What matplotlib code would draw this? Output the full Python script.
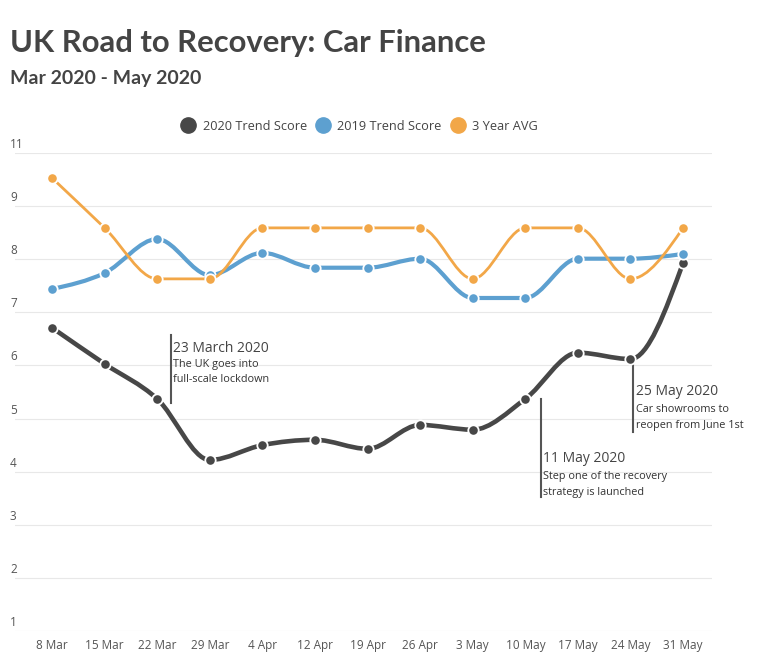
import numpy as np
import matplotlib.pyplot as plt
from matplotlib.path import Path
from matplotlib.patches import PathPatch
from matplotlib.lines import Line2D
from matplotlib.transforms import blended_transform_factory, ScaledTranslation

plt.rcParams['font.family'] = ['Open Sans', 'DejaVu Sans']

# --- Data ---
weeks = ['8 Mar', '15 Mar', '22 Mar', '29 Mar', '4 Apr', '12 Apr', '19 Apr',
         '26 Apr', '3 May', '10 May', '17 May', '24 May', '31 May']
trend_2020 = [6.71, 6.03, 5.37, 4.22, 4.50, 4.60, 4.43, 4.88, 4.79, 5.37, 6.24, 6.12, 7.93]
trend_2019 = [7.44, 7.74, 8.38, 7.70, 8.12, 7.84, 7.84, 8.01, 7.27, 7.27, 8.01, 8.01, 8.10]
avg_3yr = [9.53, 8.59, 7.63, 7.63, 8.59, 8.59, 8.59, 8.59, 7.63, 8.59, 8.59, 7.63, 8.59]

series_names = ['2020 Trend Score', '2019 Trend Score', '3 Year AVG']
colors = ['#474747', '#5da0d0', '#f2a748']
widths = [3.3, 3.0, 2.0]

ytick_pos = list(range(1, 11))
ytick_labels = ['1', '2', '3', '4', '5', '6', '7', '8', '9', '11']

# annotations: (line x, line y0, line y1, text x, title, sub lines, title y, sub ys)
notes = [
    (2.257, 6.57, 5.29, 2.31, '23 March 2020', ['The UK goes into', 'full-scale lockdown'], 6.25, [5.97, 5.69]),
    (9.294, 5.37, 3.53, 9.34, '11 May 2020', ['Step one of the recovery', 'strategy is launched'], 4.18, [3.86, 3.57]),
    (11.05, 6.01, 4.75, 11.11, '25 May 2020', ['Car showrooms to', 'reopen from June 1st'], 5.44, [5.13, 4.83]),
]


def monotone_path(x, y):
    # cubic bezier path like d3.curveMonotoneX
    x = np.asarray(x, float)
    y = np.asarray(y, float)
    n = len(x)
    t = np.zeros(n)
    for i in range(1, n - 1):
        h0 = x[i] - x[i - 1]
        h1 = x[i + 1] - x[i]
        s0 = (y[i] - y[i - 1]) / h0
        s1 = (y[i + 1] - y[i]) / h1
        p = (s0 * h1 + s1 * h0) / (h0 + h1)
        t[i] = (np.sign(s0) + np.sign(s1)) * min(abs(s0), abs(s1), 0.5 * abs(p))
    t[0] = (3 * (y[1] - y[0]) / (x[1] - x[0]) - t[1]) / 2
    t[-1] = (3 * (y[-1] - y[-2]) / (x[-1] - x[-2]) - t[-2]) / 2
    verts = [(x[0], y[0])]
    codes = [Path.MOVETO]
    for i in range(n - 1):
        dx = (x[i + 1] - x[i]) / 3
        verts += [(x[i] + dx, y[i] + dx * t[i]),
                  (x[i + 1] - dx, y[i + 1] - dx * t[i + 1]),
                  (x[i + 1], y[i + 1])]
        codes += [Path.CURVE4] * 3
    return Path(verts, codes)


# --- Plotting ---
fig = plt.figure(figsize=(7.58, 6.70), dpi=100)
ax = fig.add_axes([15 / 758, 1 - 631 / 670, 697 / 758, 478 / 670])

xs = np.arange(len(weeks))
for k, ys in enumerate([trend_2020, trend_2019, avg_3yr]):
    patch = PathPatch(monotone_path(xs, ys), fill=False, edgecolor=colors[k],
                      lw=widths[k], capstyle='round', joinstyle='round', zorder=3 + k)
    ax.add_patch(patch)
    ax.plot(xs, ys, 'o', color=colors[k], ms=7.5, mec='white', mew=1.3, zorder=3.5 + k)

ax.set_xlim(-0.704, 12.55)
ax.set_ylim(1, 10)
ax.set_yticks(ytick_pos)
ax.set_yticklabels([])
ax.grid(axis='y', color='#e8e8e8', lw=0.8)
ax.set_axisbelow(True)
for s in ax.spines.values():
    s.set_visible(False)
ax.set_xticks(xs, weeks)
ax.tick_params(axis='both', length=0)
ax.tick_params(axis='x', pad=6, labelsize=8.5, labelcolor='#555555')

# y labels sit above the gridlines, at the far left
ytrans = blended_transform_factory(fig.transFigure, ax.transData) + \
    ScaledTranslation(0, 8.5 / 100, fig.dpi_scale_trans)
for pos, lab in zip(ytick_pos, ytick_labels):
    ax.text(10 / 758, pos, lab, transform=ytrans, ha='left', va='center',
            fontsize=8.5, color='#555555')

# annotations
for lx, y0, y1, tx, title, subs, ty, sys in notes:
    ax.plot([lx, lx], [y0, y1], color='#555555', lw=1.5, zorder=2)
    ax.text(tx, ty, title, fontsize=10, color='#444444', va='baseline', ha='left')
    for line, sy in zip(subs, sys):
        ax.text(tx, sy, line, fontsize=7.8, color='#333333', va='baseline', ha='left')

# titles
fig.text(10 / 758, 1 - 52 / 670, 'UK Road to Recovery: Car Finance', fontsize=22.3,
         fontweight='bold', color='#444444', va='baseline', ha='left', family='Lato')
fig.text(10 / 758, 1 - 84 / 670, 'Mar 2020 - May 2020', fontsize=14,
         fontweight='bold', color='#444444', va='baseline', ha='left', family='Lato')

# legend
handles = [Line2D([], [], ls='', marker='o', ms=11, color=c) for c in colors]
fig.legend(handles, series_names, loc='center', bbox_to_anchor=(0.475, 1 - 126 / 670),
           ncol=3, frameon=False, fontsize=9.2, handlelength=1, handletextpad=0.6,
           columnspacing=0.8, labelcolor='#444444')

fig.savefig('out.png', dpi=100)
